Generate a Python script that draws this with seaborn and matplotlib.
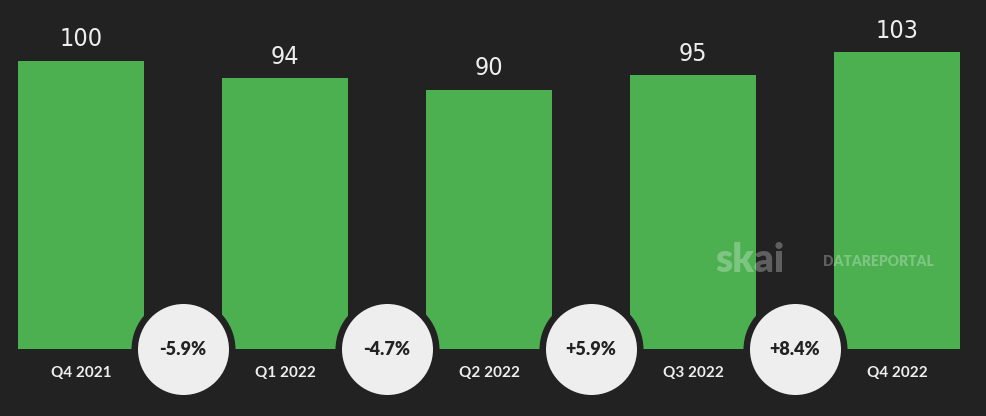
import numpy as np
import pandas as pd
import matplotlib
matplotlib.use("Agg")
import matplotlib.pyplot as plt
import seaborn as sns

# quarterly index values (Q4 2021 = 100)
quarters = ["Q4 2021", "Q1 2022", "Q2 2022", "Q3 2022", "Q4 2022"]
values = [100, 94, 90, 95, 103]
changes = ["-5.9%", "-4.7%", "+5.9%", "+8.4%"]

bg = "#222222"
green = "#4caf50"
light = "#eeeeee"

sns.set_theme(style="white")
plt.rcParams["font.family"] = ["Lato", "DejaVu Sans"]

df = pd.DataFrame({"quarter": quarters, "value": values})

fig = plt.figure(figsize=(9.86, 4.16), dpi=100, facecolor=bg)
ax = fig.add_axes([0, 0, 1, 1])
ax.set_facecolor(bg)

sns.barplot(data=df, x="quarter", y="value", color=green, saturation=1,
            width=0.617, linewidth=0, ax=ax)

ax.set_xlim(-0.397, 4.436)
ax.set_ylim(-23.26, 121.18)

# value labels above bars
for i, v in enumerate(values):
    ax.text(i, v + 7.5, str(v), ha="center", va="center", color=light,
            fontsize=18, family=["DejaVu Sans"], fontstretch="condensed")

# quarter labels below baseline
for i, q in enumerate(quarters):
    ax.text(i, -8.3, q, ha="center", va="center", color=light,
            fontsize=11, fontweight="bold")

# change bubbles between bars
mid = np.arange(len(changes)) + 0.5
ax.scatter(mid, np.zeros(len(changes)), s=(104 * 0.72) ** 2, color=bg,
           zorder=5, linewidths=0)
ax.scatter(mid, np.zeros(len(changes)), s=(91 * 0.72) ** 2, color=light,
           zorder=6, linewidths=0)
for x, c in zip(mid, changes):
    ax.text(x, 0, c, ha="center", va="center", color=bg, fontsize=13,
            fontweight="heavy", zorder=7)

# watermark
fig.text(0.726, 0.375, "skai", color="white", alpha=0.28, fontsize=28,
         fontweight="heavy", ha="left", va="center")
fig.text(0.835, 0.372, "DATAREPORTAL", color="white", alpha=0.28, fontsize=10,
         fontweight="heavy", ha="left", va="center")

ax.set_xlabel("")
ax.set_ylabel("")
ax.set_xticks([])
ax.set_yticks([])
for s in ax.spines.values():
    s.set_visible(False)

fig.savefig("out.png", dpi=100, facecolor=bg)
